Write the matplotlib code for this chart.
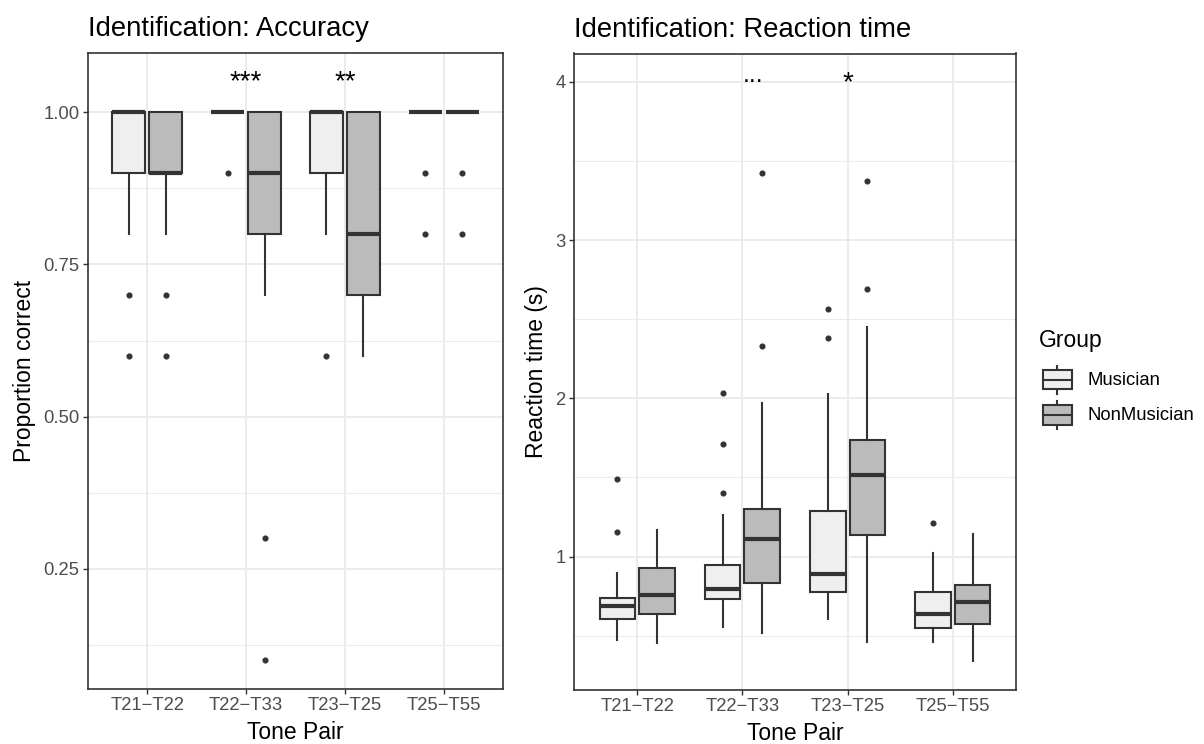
import matplotlib
matplotlib.use("Agg")
import matplotlib.pyplot as plt
from matplotlib.legend_handler import HandlerBase
from matplotlib.patches import Rectangle
from matplotlib.lines import Line2D
from matplotlib.ticker import FixedLocator

plt.rcParams['font.family'] = ['Liberation Sans', 'DejaVu Sans']

# ---------------- data ----------------
categories = ["T21\u2212T22", "T22\u2212T33", "T23\u2212T25", "T25\u2212T55"]
groups = ["Musician", "NonMusician"]

# Accuracy (proportion correct)
acc_mus_q1 = [0.9, 1.0, 0.9, 1.0]
acc_mus_med = [1.0, 1.0, 1.0, 1.0]
acc_mus_q3 = [1.0, 1.0, 1.0, 1.0]
acc_mus_lo = [0.8, 1.0, 0.8, 1.0]
acc_mus_hi = [1.0, 1.0, 1.0, 1.0]
acc_mus_out = [[0.7, 0.6], [0.9], [0.6], [0.9, 0.8]]

acc_non_q1 = [0.9, 0.8, 0.7, 1.0]
acc_non_med = [0.9, 0.9, 0.8, 1.0]
acc_non_q3 = [1.0, 1.0, 1.0, 1.0]
acc_non_lo = [0.8, 0.7, 0.6, 1.0]
acc_non_hi = [1.0, 1.0, 1.0, 1.0]
acc_non_out = [[0.7, 0.6], [0.3, 0.1], [], [0.9, 0.8]]

acc_sig = ["", "***", "**", ""]

# Reaction time (s)
rt_mus_q1 = [0.604, 0.735, 0.777, 0.551]
rt_mus_med = [0.689, 0.796, 0.889, 0.636]
rt_mus_q3 = [0.737, 0.947, 1.290, 0.777]
rt_mus_lo = [0.474, 0.552, 0.608, 0.463]
rt_mus_hi = [0.895, 1.263, 2.028, 1.021]
rt_mus_out = [[1.493, 1.156], [1.404, 1.712, 2.036], [2.383, 2.565], [1.215]]

rt_non_q1 = [0.640, 0.832, 1.139, 0.577]
rt_non_med = [0.756, 1.114, 1.514, 0.716]
rt_non_q3 = [0.927, 1.303, 1.737, 0.819]
rt_non_lo = [0.453, 0.516, 0.461, 0.343]
rt_non_hi = [1.169, 1.973, 2.451, 1.141]
rt_non_out = [[], [2.331, 3.425], [2.689, 3.373], []]

rt_sig = ["", "...", "*", ""]

# ---------------- style ----------------
fills = {"Musician": "#EFEFEF", "NonMusician": "#BBBBBB"}
edge = "#333333"
grid_col = "#EBEBEB"
tick_col = "#4D4D4D"
W, H = 1204, 744
TICK_FS = 13.3
AXT_FS = 16.5
TITLE_FS = 19.8

fig = plt.figure(figsize=(W / 100, H / 100), dpi=100)


def px_axes(x0, y0, x1, y1):
    return fig.add_axes([x0 / W, 1 - y1 / H, (x1 - x0) / W, (y1 - y0) / H])


def stats_list(q1, med, q3, lo, hi, out):
    return [dict(q1=a, med=b, q3=c, whislo=d, whishi=e, fliers=f)
            for a, b, c, d, e, f in zip(q1, med, q3, lo, hi, out)]


def draw_panel(ax, mus, non, sig, ylim, major, minor, fmt, title, ylabel, sig_y):
    ax.set_facecolor("white")
    xs = list(range(1, len(categories) + 1))
    off = 0.1875
    bw = 0.3375
    for st, grp, d in ((mus, "Musician", -off), (non, "NonMusician", off)):
        ax.bxp(st, positions=[x + d for x in xs], widths=bw, showcaps=False,
               patch_artist=True, manage_ticks=False,
               boxprops=dict(facecolor=fills[grp], edgecolor=edge, linewidth=1.5),
               medianprops=dict(color=edge, linewidth=3.0, solid_capstyle="butt"),
               whiskerprops=dict(color=edge, linewidth=1.5),
               flierprops=dict(marker="o", markerfacecolor=edge, markeredgecolor=edge,
                               markersize=3.4, linestyle="none"),
               zorder=3)
    for x, s in zip(xs, sig):
        if not s:
            continue
        if s == "...":
            ax.text(x, sig_y[1], s, ha="left", va="baseline", fontsize=18, color="black", zorder=4)
        else:
            ax.text(x, sig_y[0], s, ha="center", va="center", fontsize=20, color="black", zorder=4)
    ax.set_xlim(0.4, 4.6)
    ax.set_ylim(*ylim)
    ax.set_xticks(xs)
    ax.set_xticklabels(categories)
    ax.yaxis.set_major_locator(FixedLocator(major))
    ax.yaxis.set_minor_locator(FixedLocator(minor))
    ax.set_yticklabels([fmt.format(v) for v in major])
    ax.grid(True, which="major", color=grid_col, linewidth=1.4, zorder=0)
    ax.grid(True, which="minor", axis="y", color=grid_col, linewidth=0.8, zorder=0)
    ax.set_axisbelow(True)
    for sp in ax.spines.values():
        sp.set_color(edge)
        sp.set_linewidth(1.2)
    ax.tick_params(which="major", length=3.6, width=1.0, color=edge, labelcolor=tick_col,
                   labelsize=TICK_FS, pad=2.5)
    ax.tick_params(which="minor", length=0)
    ax.set_xlabel("Tone Pair", fontsize=AXT_FS, labelpad=5)
    ax.set_ylabel(ylabel, fontsize=AXT_FS, labelpad=5)
    ax.set_title(title, loc="left", fontsize=TITLE_FS, pad=12)


ax1 = px_axes(88, 53, 503, 689)
draw_panel(ax1,
           stats_list(acc_mus_q1, acc_mus_med, acc_mus_q3, acc_mus_lo, acc_mus_hi, acc_mus_out),
           stats_list(acc_non_q1, acc_non_med, acc_non_q3, acc_non_lo, acc_non_hi, acc_non_out),
           acc_sig, (0.0525, 1.0975), [0.25, 0.5, 0.75, 1.0], [0.125, 0.375, 0.625, 0.875],
           "{:.2f}", "Identification: Accuracy", "Proportion correct", (1.05, 1.05))

ax2 = px_axes(574, 53.5, 1016, 689.5)
draw_panel(ax2,
           stats_list(rt_mus_q1, rt_mus_med, rt_mus_q3, rt_mus_lo, rt_mus_hi, rt_mus_out),
           stats_list(rt_non_q1, rt_non_med, rt_non_q3, rt_non_lo, rt_non_hi, rt_non_out),
           rt_sig, (0.16, 4.18), [1, 2, 3, 4], [0.5, 1.5, 2.5, 3.5],
           "{:.0f}", "Identification: Reaction time", "Reaction time (s)", (3.99, 4.0))


# ---------------- legend ----------------
class BoxKeyHandler(HandlerBase):
    def create_artists(self, legend, orig_handle, xdescent, ydescent, width, height, fontsize, trans):
        fc = orig_handle.get_facecolor()
        x0, y0 = -xdescent, -ydescent
        cx = x0 + width / 2
        arts = [
            Line2D([cx, cx], [y0 + 0.1 * height, y0 + 0.9 * height], color=edge, lw=1.5),
            Rectangle((x0 + 0.125 * width, y0 + 0.22 * height), 0.75 * width, 0.56 * height,
                      facecolor=fc, edgecolor=edge, lw=1.5),
            Line2D([x0 + 0.125 * width, x0 + 0.875 * width], [y0 + 0.5 * height] * 2,
                   color=edge, lw=1.5),
        ]
        for a in arts:
            a.set_transform(trans)
        return arts


fig.text(1039 / W, 1 - 340 / H, "Group", ha="left", va="center", fontsize=AXT_FS)
handles = [Rectangle((0, 0), 1, 1, facecolor=fills[g], edgecolor=edge) for g in groups]
leg = fig.legend(handles, groups, loc="upper left",
                 bbox_to_anchor=(1038 / W, 1 - 362 / H), frameon=False,
                 handler_map={Rectangle: BoxKeyHandler()},
                 handlelength=2.1, handleheight=2.55, handletextpad=0.6,
                 labelspacing=0.0, borderpad=0, borderaxespad=0,
                 fontsize=TICK_FS)

fig.savefig("out.png", dpi=100)
